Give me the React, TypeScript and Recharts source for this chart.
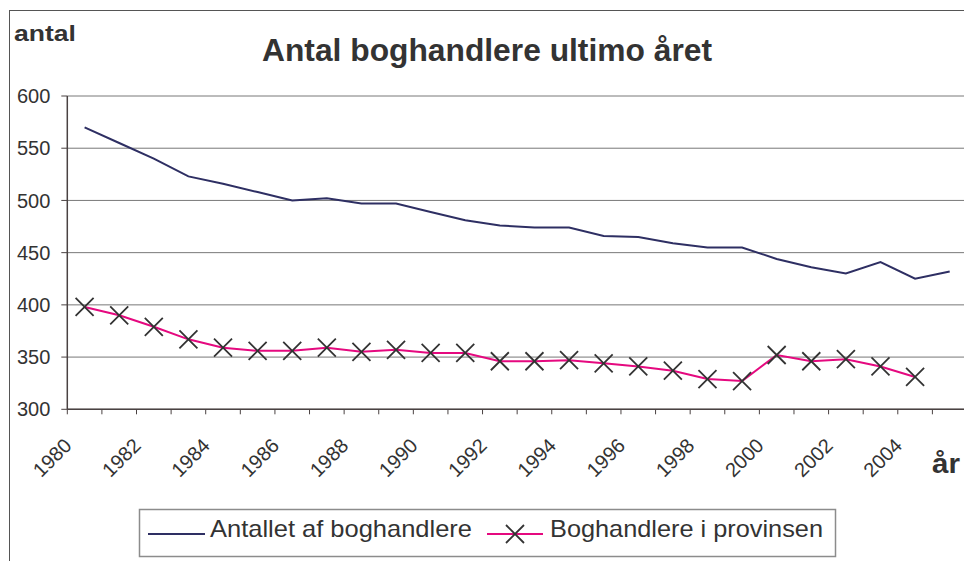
import React from 'react';
import { LineChart, Line, XAxis, YAxis, CartesianGrid } from 'recharts';

const years = [1980, 1981, 1982, 1983, 1984, 1985, 1986, 1987, 1988, 1989, 1990, 1991, 1992, 1993, 1994, 1995, 1996, 1997, 1998, 1999, 2000, 2001, 2002, 2003, 2004, 2005];
const totalShops = [570, 555, 540, 523, 516, 508, 500, 502, 497, 497, 489, 481, 476, 474, 474, 466, 465, 459, 455, 455, 444, 436, 430, 441, 425, 432];
const provinceShops: (number | null)[] = [398, 390, 379, 367, 359, 356, 356, 359, 355, 357, 354, 354, 346, 346, 347, 344, 341, 337, 329, 327, 352, 346, 348, 341, 331, null];
const yTicks = [300, 350, 400, 450, 500, 550, 600];
const xTicks = [1980, 1981, 1982, 1983, 1984, 1985, 1986, 1987, 1988, 1989, 1990, 1991, 1992, 1993, 1994, 1995, 1996, 1997, 1998, 1999, 2000, 2001, 2002, 2003, 2004, 2005, 2006];
const labelYears = [1980, 1982, 1984, 1986, 1988, 1990, 1992, 1994, 1996, 1998, 2000, 2002, 2004];
const seriesNames = ['Antallet af boghandlere', 'Boghandlere i provinsen'];
const chartTitle = 'Antal boghandlere ultimo året';
const yTitle = 'antal';
const xTitle = 'år';

const data = years.map((y, i) => ({ pos: y + 0.5, year: y, total: totalShops[i], province: provinceShops[i] }));

const FONT = '"Liberation Sans", Arial, Helvetica, sans-serif';
const TEXT = '#333333';
const NAVY = '#2e2f63';
const PINK = '#e5097f';
const AXIS = '#4a4242';
const GRID = '#787878';

const XTick = (props: any) => {
  const { x, y, payload } = props;
  if (!labelYears.includes(payload.value)) return <g />;
  const ax = x + 5.5;
  const ay = y + 32.5;
  return (
    <text x={ax} y={ay} transform={`rotate(-45 ${ax} ${ay})`} textAnchor="end" fontSize={20} fill={TEXT} fontFamily={FONT}>
      {payload.value}
    </text>
  );
};

const XMark = ({ cx, cy, r = 9, keyId }: any) => (
  <path key={keyId} d={`M${cx - r},${cy - r}L${cx + r},${cy + r}M${cx - r},${cy + r}L${cx + r},${cy - r}`} stroke="#333" strokeWidth={1.8} fill="none" />
);

const renderDot = (p: any) => {
  if (p.cy == null || p.value == null || isNaN(p.cy)) return <g key={`d${p.index}`} />;
  return <XMark key={`d${p.index}`} keyId={`d${p.index}`} cx={p.cx} cy={p.cy} />;
};

export default function App() {
  return (
    <div style={{ position: 'absolute', left: 0, top: 0, width: 964, height: 561, overflow: 'hidden', background: '#fff' }}>
      <div style={{ position: 'absolute', left: 9, top: 10, width: 1000, height: 1000, border: '1px solid #555' }} />
      <div style={{ position: 'absolute', left: 0, top: 0 }}>
        <LineChart width={1000} height={561} data={data} margin={{ top: 96, right: 33, bottom: 0, left: 0 }}>
          <CartesianGrid vertical={false} stroke={GRID} strokeWidth={1} />
          <XAxis
            type="number"
            dataKey="pos"
            domain={[1980, 2006]}
            ticks={xTicks}
            interval={0}
            tickSize={5}
            tickMargin={0}
            height={151.7}
            axisLine={{ stroke: AXIS, strokeWidth: 1.5 }}
            tickLine={{ stroke: AXIS, strokeWidth: 1 }}
            tick={<XTick />}
            allowDataOverflow
          />
          <YAxis
            type="number"
            domain={[300, 600]}
            ticks={yTicks}
            interval={0}
            width={67.3}
            tickSize={6}
            tickMargin={11}
            axisLine={{ stroke: AXIS, strokeWidth: 1.5 }}
            tickLine={{ stroke: AXIS, strokeWidth: 1 }}
            tick={{ fontSize: 20, fill: TEXT, fontFamily: FONT }}
          />
          <Line type="linear" dataKey="total" name={seriesNames[0]} stroke={NAVY} strokeWidth={2} dot={false} isAnimationActive={false} />
          <Line type="linear" dataKey="province" name={seriesNames[1]} stroke={PINK} strokeWidth={2} dot={renderDot} isAnimationActive={false} />
        </LineChart>
      </div>
      <svg width={964} height={561} style={{ position: 'absolute', left: 0, top: 0, pointerEvents: 'none' }}>
        <text x={262} y={61} fontSize={31} fontWeight="bold" fill={TEXT} fontFamily={FONT} textLength={450} lengthAdjust="spacingAndGlyphs">
          {chartTitle}
        </text>
        <text x={14} y={41} fontSize={22} fontWeight="bold" fill={TEXT} fontFamily={FONT} textLength={62} lengthAdjust="spacingAndGlyphs">
          {yTitle}
        </text>
        <text x={932} y={473} fontSize={28} fontWeight="bold" fill={TEXT} fontFamily={FONT} textLength={28} lengthAdjust="spacingAndGlyphs">
          {xTitle}
        </text>
        <rect x={139.5} y={509.5} width={696} height={47} fill="#fff" stroke="#8c8c8c" strokeWidth={1.5} />
        <line x1={148} y1={534} x2={205} y2={534} stroke={NAVY} strokeWidth={2} />
        <text x={210} y={537} fontSize={24} fill={TEXT} fontFamily={FONT} textLength={262} lengthAdjust="spacingAndGlyphs">
          {seriesNames[0]}
        </text>
        <line x1={487} y1={534} x2={543} y2={534} stroke={PINK} strokeWidth={2} />
        <XMark cx={515} cy={534} />
        <text x={550} y={537} fontSize={24} fill={TEXT} fontFamily={FONT} textLength={273} lengthAdjust="spacingAndGlyphs">
          {seriesNames[1]}
        </text>
      </svg>
    </div>
  );
}
